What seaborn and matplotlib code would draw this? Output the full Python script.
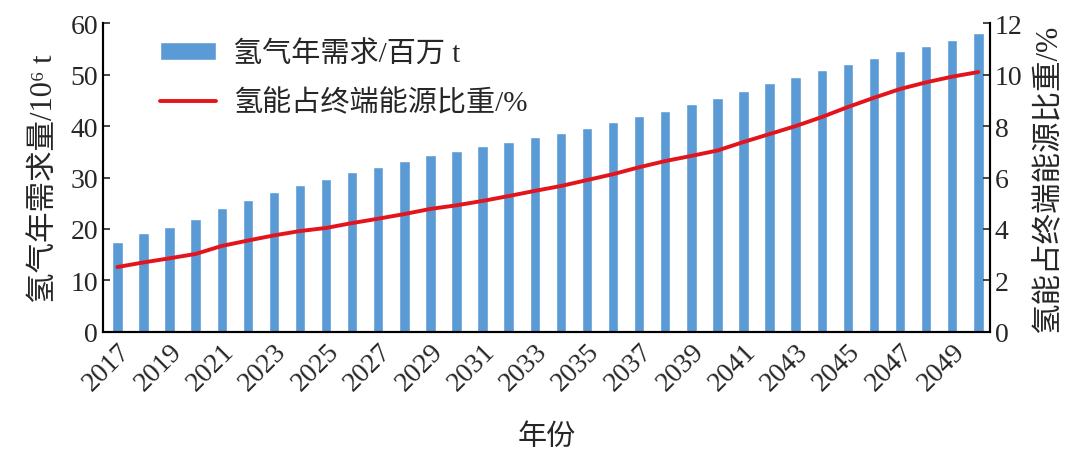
import numpy as np
import pandas as pd
import seaborn as sns
import matplotlib.pyplot as plt

years = list(range(2017, 2051))
demand = [17.5, 19.2, 20.4, 22.0, 24.0, 25.6, 27.1, 28.5, 29.7, 31.1,
          32.1, 33.2, 34.4, 35.1, 36.1, 36.9, 37.9, 38.6, 39.6, 40.7,
          41.9, 43.0, 44.2, 45.5, 46.8, 48.3, 49.5, 50.9, 52.0, 53.2,
          54.5, 55.6, 56.7, 58.0]
share = [2.52, 2.70, 2.86, 3.03, 3.34, 3.55, 3.75, 3.92, 4.04, 4.23,
         4.40, 4.58, 4.78, 4.92, 5.09, 5.28, 5.48, 5.67, 5.90, 6.13,
         6.40, 6.64, 6.84, 7.05, 7.38, 7.69, 8.00, 8.35, 8.74, 9.10,
         9.44, 9.70, 9.92, 10.10]

df = pd.DataFrame({"year": years, "demand": demand, "share": share})

sns.set_style("ticks")
plt.rcParams['font.family'] = ['Liberation Serif', 'Noto Sans CJK SC', 'DejaVu Serif']

fig = plt.figure(figsize=(10.8, 4.56), dpi=100)
ax = fig.add_axes([0.0954, 0.27, 0.8213, 0.677])
ax2 = ax.twinx()

sns.barplot(data=df, x="year", y="demand", native_scale=True, width=0.4,
            color="#5B9BD5", saturation=1, ax=ax, label="氢气年需求/百万 t")
sns.lineplot(data=df, x="year", y="share", color="#E3141B", linewidth=2.8,
             ax=ax2, label="氢能占终端能源比重/%")

ax.set_xlim(years[0] - 0.55, years[-1] + 0.45)
ax.set_ylim(0, 60)
ax2.set_ylim(0, 12)
ax.set_yticks(range(0, 61, 10))
ax2.set_yticks(range(0, 13, 2))
ax.set_xticks(years[::2])
ax.set_xticklabels([str(y) for y in years[::2]], rotation=45, ha='right',
                   rotation_mode='anchor', fontsize=20)
ax.tick_params(axis='y', direction='in', labelsize=20, length=5, width=1.2)
ax2.tick_params(axis='y', direction='in', labelsize=20, length=5, width=1.2)
ax.tick_params(axis='x', length=0, pad=5)

for a in (ax, ax2):
    a.spines['top'].set_visible(False)
    for s in ('left', 'right', 'bottom'):
        a.spines[s].set_linewidth(1.5)
        a.spines[s].set_color('black')

ax.set_xlabel("年份", fontsize=21, labelpad=20)
ax.set_ylabel("氢气年需求量/10⁶ t", fontsize=22, labelpad=8)
ax2.set_ylabel("氢能占终端能源比重/%", fontsize=22, labelpad=8)

h1, l1 = ax.get_legend_handles_labels()
h2, l2 = ax2.get_legend_handles_labels()
if ax2.get_legend():
    ax2.get_legend().remove()
if ax.get_legend():
    ax.get_legend().remove()
ax.legend(h1 + h2, l1 + l2, loc='upper left', bbox_to_anchor=(0.035, 1.03),
          frameon=False, fontsize=21, handlelength=1.9, handleheight=0.6,
          handletextpad=0.6, labelspacing=0.75)

plt.savefig("out.png", dpi=100)
plt.close()
